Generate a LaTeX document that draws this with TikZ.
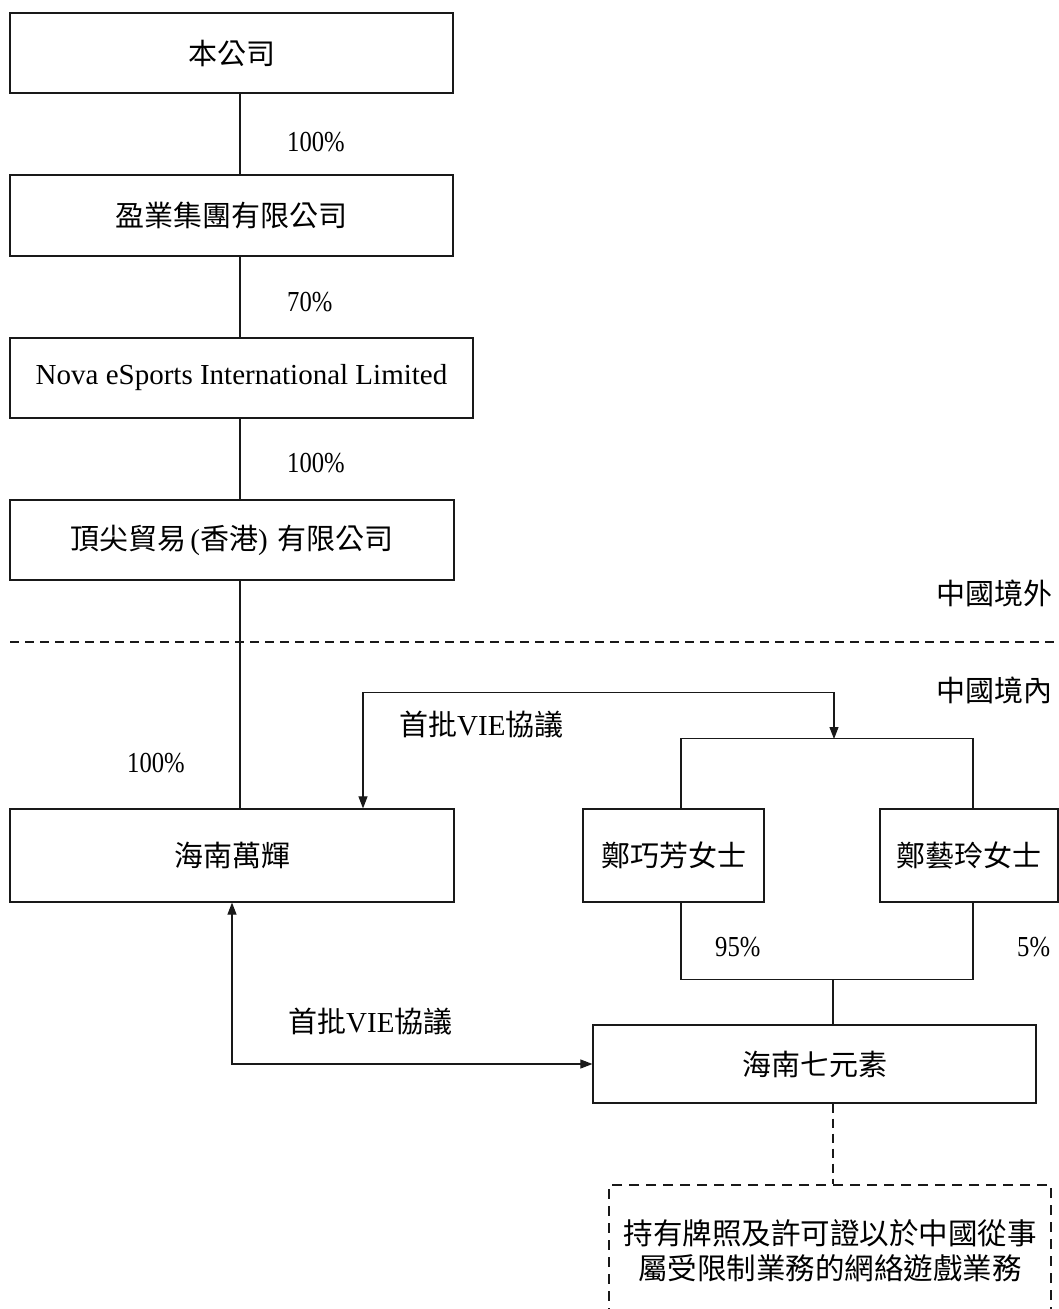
\documentclass[tikz,border=0pt]{standalone}
\usepackage{fontspec}
\setmainfont{Liberation Serif}
\newfontfamily\cjk{Noto Sans CJK TC}
\newfontfamily\pctfont[FakeStretch=0.85]{Liberation Serif}
\usetikzlibrary{arrows.meta}
\begin{document}
\begin{tikzpicture}[x=1pt,y=-1pt,
  box/.style={draw=black!90, line width=1.2pt, inner sep=0pt, font=\fontsize{29}{35}\selectfont},
  lbl/.style={inner sep=0pt, font=\fontsize{29}{35}\selectfont},
  conn/.style={line width=1.1pt, draw=black!90},
  arr/.style={conn, {Triangle[length=12pt,width=9pt]}-{Triangle[length=12pt,width=9pt]}},
  dsh/.style={conn, dash pattern=on 9pt off 6pt}]
\useasboundingbox (0,0) rectangle (1059,1309);

% boxes
\node[box, minimum width=443pt, minimum height=80pt] (c1) at (231.5,53) {\cjk 本公司};
\node[box, minimum width=443pt, minimum height=81pt] (c2) at (231.5,215.5) {\cjk 盈業集團有限公司};
\node[box, minimum width=463pt, minimum height=80pt] (c3) at (241.5,378) {Nova eSports International Limited};
\node[box, minimum width=444pt, minimum height=80pt] (c4) at (232,540) {{\cjk 頂尖貿易}\kern4pt({\cjk 香港})\kern10pt{\cjk 有限公司}};
\node[box, minimum width=444pt, minimum height=93pt] (hw) at (232,855.5) {\cjk 海南萬輝};
\node[box, minimum width=181pt, minimum height=93pt] (z1) at (673.5,855.5) {\cjk 鄭巧芳女士};
\node[box, minimum width=178pt, minimum height=93pt] (z2) at (969,855.5) {\cjk 鄭藝玲女士};
\node[box, minimum width=443pt, minimum height=78pt] (qys) at (814.5,1064) {\cjk 海南七元素};
\node[box, dash pattern=on 10pt off 7pt, minimum width=442pt, minimum height=132pt, align=center,
      text width=430pt, font=\fontsize{29.5}{35}\selectfont] (biz) at (830,1251)
      {\cjk 持有牌照及許可證以於中國從事\\\cjk 屬受限制業務的網絡遊戲業務};

% ownership chain
\draw[conn] ([xshift=8.5pt]c1.south) -- ([xshift=8.5pt]c2.north);
\draw[conn] ([xshift=8.5pt]c2.south) -- ([xshift=-1.5pt]c3.north);
\draw[conn] ([xshift=-1.5pt]c3.south) -- ([xshift=8pt]c4.north);
\draw[conn] ([xshift=8pt]c4.south) -- ([xshift=8pt]hw.north);

% border line
\coordinate (dl) at (10,642);
\coordinate (dr) at (1059,642);
\draw[dsh] (dl) -- (dr);

% bracket over the two shareholders
\coordinate (bt) at (834,739);
\draw[conn] ([xshift=7.5pt]z1.north) -- ++(0,-70) -| ([xshift=4pt]z2.north);
\draw[arr] ([xshift=131pt]hw.north) -- ++(0,-116) -| (bt);

% bracket under the two shareholders
\coordinate (bb) at (833,979);
\draw[conn] ([xshift=7.5pt]z1.south) -- ++(0,77) -| ([xshift=4pt]z2.south);
\draw[conn] (bb) -- (bb |- qys.north);

% lower VIE
\draw[arr] (hw.south) |- (qys.west);

% dashed to business
\draw[dsh] (qys.south -| bb) -- (biz.north -| bb);

% labels
\node[lbl, anchor=west] (p1) at (287,142) {\pctfont 100\%};
\node[lbl, anchor=west] (p2) at (287,302) {\pctfont 70\%};
\node[lbl, anchor=west] (p3) at (287,463) {\pctfont 100\%};
\node[lbl, anchor=west] (p4) at (127,763) {\pctfont 100\%};
\node[lbl, anchor=west] (p5) at (715,947) {\pctfont 95\%};
\node[lbl, anchor=west] (p6) at (1017,947) {\pctfont 5\%};
\node[lbl, anchor=west] (v1) at (399,725) {{\cjk 首批}VIE{\cjk 協議}};
\node[lbl, anchor=west] (v2) at (288,1022) {{\cjk 首批}VIE{\cjk 協議}};
\node[lbl, anchor=east] (out) at (1053,593) {\cjk 中國境外};
\node[lbl, anchor=east] (in) at (1053,690) {\cjk 中國境內};
\end{tikzpicture}
\end{document}
